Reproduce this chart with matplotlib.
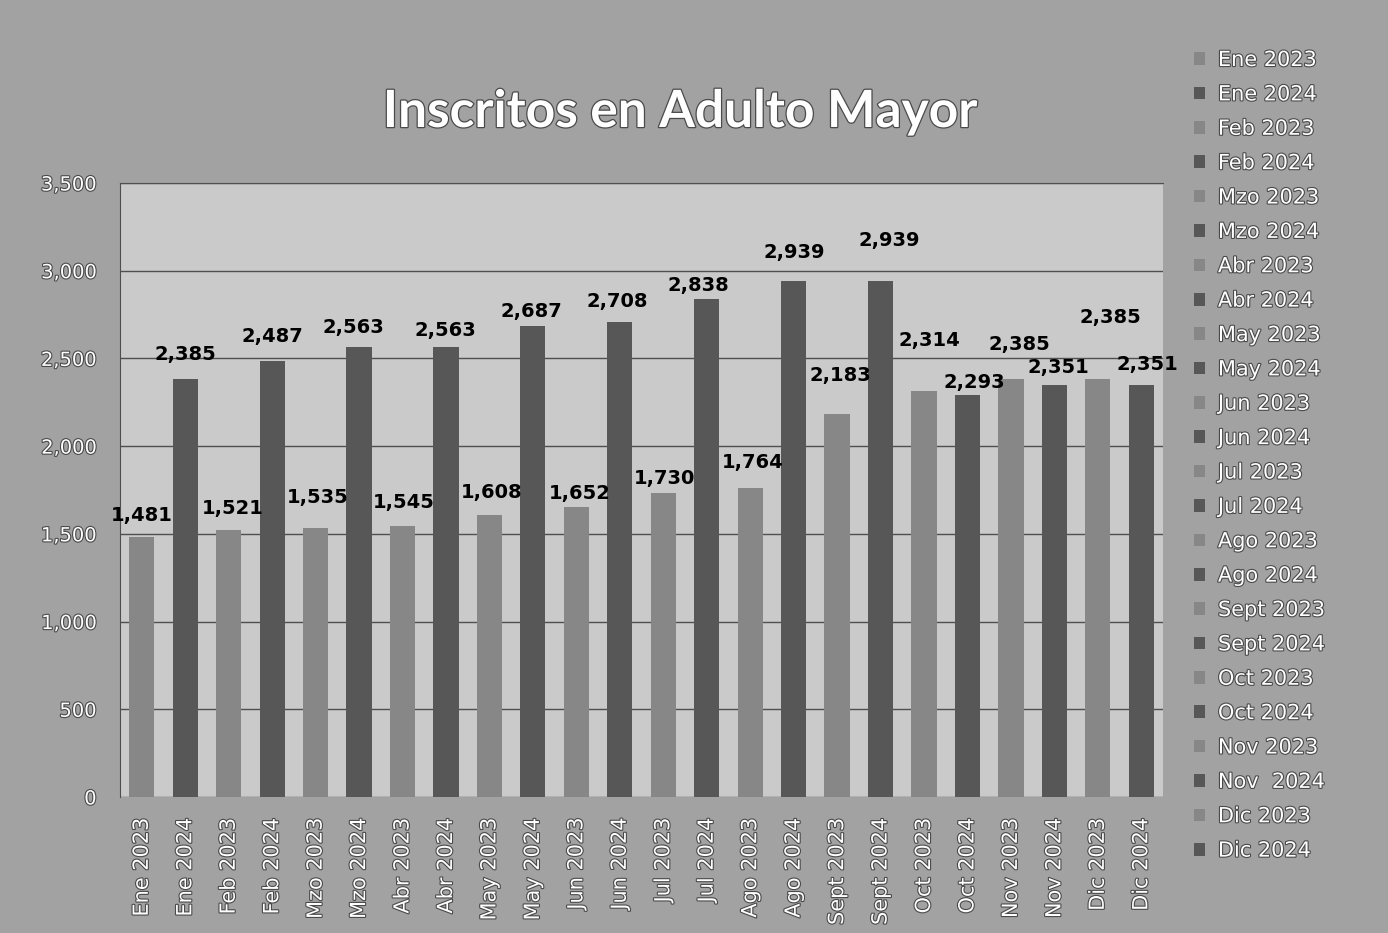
import matplotlib
matplotlib.use("Agg")
import matplotlib.pyplot as plt
from matplotlib.patches import Patch
import matplotlib.patheffects as pe

# Inscritos por mes, 2023 vs 2024 (intercalados)
meses = ["Ene", "Feb", "Mzo", "Abr", "May", "Jun",
         "Jul", "Ago", "Sept", "Oct", "Nov", "Dic"]
inscritos_2023 = [1481, 1521, 1535, 1545, 1608, 1652,
                  1730, 1764, 2183, 2314, 2385, 2385]
inscritos_2024 = [2385, 2487, 2563, 2563, 2687, 2708,
                  2838, 2939, 2939, 2293, 2351, 2351]

etiquetas = []
valores = []
for m, v23, v24 in zip(meses, inscritos_2023, inscritos_2024):
    etiquetas += [m + " 2023", m + " 2024"]
    valores += [v23, v24]
# leyenda trae un nombre con espacio extra
leyenda = list(etiquetas)
leyenda[21] = "Nov  2024"

# desplazamiento de cada etiqueta de dato (pixeles, respecto al tope de la barra)
desp_etiquetas = [(0, 22), (0, 24), (4, 22), (0, 24), (2, 30), (-6, 20),
                  (1, 23), (-1, 17), (2, 22), (-2, 14), (3, 14), (-3, 20),
                  (1, 15), (-8, 14), (3, 25), (1, 29), (3, 39), (9, 41),
                  (5, 51), (7, 12), (8, 34), (4, 17), (13, 61), (6, 20)]

gris_2023 = "#878787"
gris_2024 = "#575757"
colores = [gris_2023 if i % 2 == 0 else gris_2024 for i in range(len(valores))]

blanco_borde = [pe.withStroke(linewidth=1.6, foreground="#4a4a4a")]

fig = plt.figure(figsize=(13.88, 9.33), dpi=100, facecolor="#a2a2a2")
ax = fig.add_axes([0.0865, 0.1458, 0.7514, 0.6581], facecolor="#cacaca")

x = list(range(len(valores)))
barras = ax.bar(x, valores, width=0.58, color=colores, zorder=3)

for i, b in enumerate(barras):
    dx, dy = desp_etiquetas[i]
    ax.annotate(f"{valores[i]:,}", (b.get_x() + b.get_width() / 2, valores[i]),
                xytext=(dx, dy), textcoords="offset pixels",
                ha="center", va="center", fontsize=14, fontweight="bold",
                family="DejaVu Sans", color="black", zorder=5)

ax.set_xlim(-0.5, len(valores) - 0.5)
ax.set_ylim(0, 3500)
ax.set_yticks(range(0, 3501, 500))
ax.set_yticklabels([f"{t:,}" for t in range(0, 3501, 500)])
ax.set_xticks(x)
ax.set_xticklabels(etiquetas, rotation=90)
ax.tick_params(axis="both", length=0, labelsize=15, labelcolor="white")
ax.tick_params(axis="x", pad=15)
ax.tick_params(axis="y", pad=17, labelsize=14)
for t in ax.get_xticklabels() + ax.get_yticklabels():
    t.set_path_effects(blanco_borde)

ax.grid(axis="y", color="#4f4f4f", linewidth=1.0, zorder=1)
for lado in ["right", "bottom"]:
    ax.spines[lado].set_visible(False)
ax.spines["top"].set_color("#4f4f4f")
ax.spines["left"].set_color("#4f4f4f")

fig.text(0.49, 1 - 127 / 933, "Inscritos en Adulto Mayor", ha="center",
         va="baseline", fontsize=37, fontweight="bold", family="Lato",
         color="white",
         path_effects=[pe.withStroke(linewidth=1.8, foreground="#4a4a4a")])

handles = [Patch(facecolor=c, edgecolor="none") for c in colores]
leg = fig.legend(handles, leyenda, loc="upper left",
                 bbox_to_anchor=(1194 / 1388, 1 - 50 / 933),
                 frameon=False, fontsize=15, labelspacing=0.69,
                 handlelength=0.55, handleheight=0.55, handletextpad=0.6,
                 borderpad=0, borderaxespad=0)
for t in leg.get_texts():
    t.set_color("white")
    t.set_path_effects(blanco_borde)

fig.savefig("out.png", dpi=100, facecolor=fig.get_facecolor())
